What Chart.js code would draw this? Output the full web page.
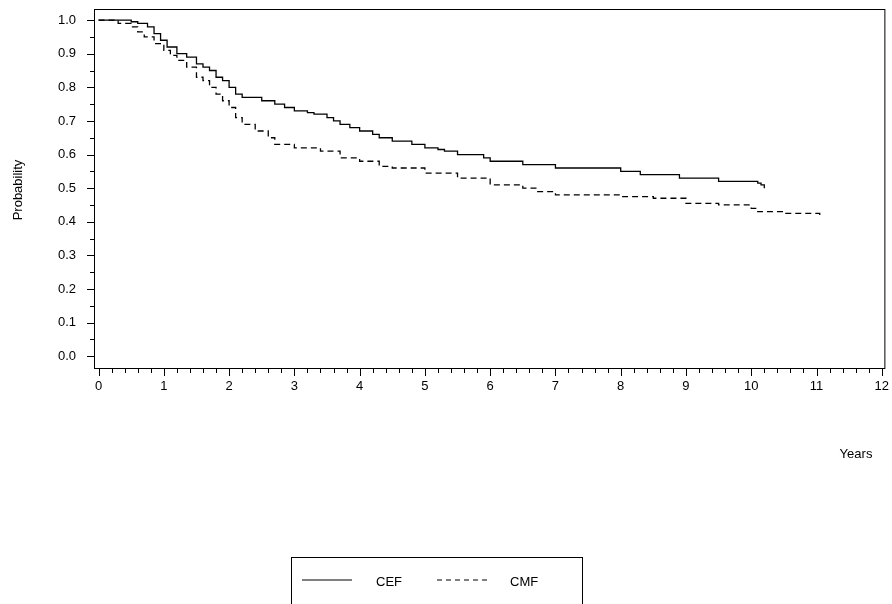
<!DOCTYPE html>
<html><head><meta charset="utf-8">
<script src="https://cdn.jsdelivr.net/npm/chart.js@4/dist/chart.umd.min.js"></script>
<style>html,body{margin:0;padding:0;background:#fff}#w{width:892px;height:604px}</style>
</head><body><div id="w"><canvas id="c"></canvas></div>
<script>
const cefX=[0,0.5,0.6,0.75,0.85,0.95,1.05,1.2,1.35,1.5,1.6,1.7,1.8,1.9,2.0,2.1,2.2,2.5,2.7,2.85,3.0,3.2,3.3,3.5,3.6,3.7,3.85,4.0,4.2,4.3,4.5,4.8,5.0,5.2,5.3,5.5,5.9,6.0,6.5,7.0,7.8,8.0,8.3,8.9,9.5,10.1,10.15,10.2];
const cefY=[1.0,0.995,0.99,0.98,0.96,0.94,0.92,0.90,0.89,0.87,0.86,0.85,0.83,0.82,0.80,0.78,0.77,0.76,0.75,0.74,0.73,0.725,0.72,0.71,0.70,0.69,0.68,0.67,0.66,0.65,0.64,0.63,0.62,0.615,0.61,0.60,0.59,0.58,0.57,0.56,0.56,0.55,0.54,0.53,0.52,0.515,0.51,0.50];
const cmfX=[0,0.3,0.5,0.6,0.7,0.85,1.0,1.1,1.2,1.35,1.5,1.6,1.7,1.8,1.9,2.0,2.1,2.2,2.4,2.6,2.7,3.0,3.4,3.7,4.0,4.3,4.5,5.0,5.5,6.0,6.5,6.7,7.0,7.5,8.0,8.5,9.0,9.5,10.0,10.1,10.5,11.05];
const cmfY=[1.0,0.99,0.98,0.965,0.95,0.93,0.91,0.895,0.88,0.86,0.83,0.82,0.80,0.78,0.76,0.74,0.71,0.69,0.67,0.65,0.63,0.62,0.61,0.59,0.58,0.565,0.56,0.545,0.53,0.51,0.50,0.49,0.48,0.48,0.475,0.47,0.455,0.45,0.44,0.43,0.425,0.415];
const xTicks=[0,1,2,3,4,5,6,7,8,9,10,11,12];
const yTicks=[0.0,0.1,0.2,0.3,0.4,0.5,0.6,0.7,0.8,0.9,1.0];
const seriesNames=['CEF','CMF'];
const pts=(xs,ys)=>xs.map((x,i)=>({x,y:ys[i]}));
const FONT='"Liberation Sans", Arial, sans-serif';
const deco={id:'deco',afterDraw(ch){
 const c=ch.ctx,a=ch.chartArea,xs=ch.scales.x,ys=ch.scales.y;
 c.save();c.strokeStyle='#000';c.lineWidth=1;
 c.strokeRect(a.left+0.5,a.top+0.5,a.right-a.left,a.bottom-a.top);
 c.beginPath();
 for(let v=0;v<=60;v++){const val=v*0.2;const x=Math.round(xs.getPixelForValue(val))+0.5;const maj=v%5===0;c.moveTo(x,a.bottom);c.lineTo(x,a.bottom+(maj?8:5));}
 for(let v=0;v<=20;v++){const val=v*0.05;const y=Math.round(ys.getPixelForValue(val))+0.5;const maj=v%2===0;c.moveTo(a.left,y);c.lineTo(a.left-(maj?7:4),y);}
 c.stroke();
 c.fillStyle='#000';c.font='13px '+FONT;
 c.textAlign='center';c.textBaseline='middle';
 c.fillText('Years',856,454);
 c.save();c.translate(18,190);c.rotate(-Math.PI/2);c.fillText('Probability',0,0);c.restore();
 c.strokeRect(291.5,557.5,291,50);
 c.beginPath();c.moveTo(302,580);c.lineTo(352,580);c.stroke();
 c.setLineDash([5,4]);c.beginPath();c.moveTo(437,580);c.lineTo(487,580);c.stroke();c.setLineDash([]);
 c.textAlign='left';c.fillText(seriesNames[0],376,582);c.fillText(seriesNames[1],510,582);
 c.restore();
}};
new Chart(document.getElementById('c'),{type:'line',
 data:{datasets:[
  {label:seriesNames[0],data:pts(cefX,cefY),stepped:true,borderColor:'#000',borderWidth:1.3,pointRadius:0,fill:false},
  {label:seriesNames[1],data:pts(cmfX,cmfY),stepped:true,borderColor:'#000',borderWidth:1.3,borderDash:[6,4],pointRadius:0,fill:false}]},
 options:{responsive:true,maintainAspectRatio:false,animation:false,
  layout:{padding:{top:9,right:0,left:0,bottom:0}},
  plugins:{legend:{display:false},tooltip:{enabled:false}},
  scales:{
   x:{type:'linear',min:-0.07,max:12.04,afterBuildTicks(s){s.ticks=xTicks.map(v=>({value:v}));},
      afterFit(s){s.height=236;},
      grid:{display:false},border:{display:false},
      ticks:{color:'#000',font:{size:13,family:FONT},padding:3,maxRotation:0}},
   y:{min:-0.035,max:1.033,afterBuildTicks(s){s.ticks=yTicks.map(v=>({value:v}));},
      afterFit(s){s.width=94;s.paddingTop=0;s.paddingBottom=0;},
      grid:{display:false},border:{display:false},
      ticks:{color:'#000',font:{size:13,family:FONT},padding:10,callback:v=>Number(v).toFixed(1)}}
  }},
 plugins:[deco]});
</script></body></html>
